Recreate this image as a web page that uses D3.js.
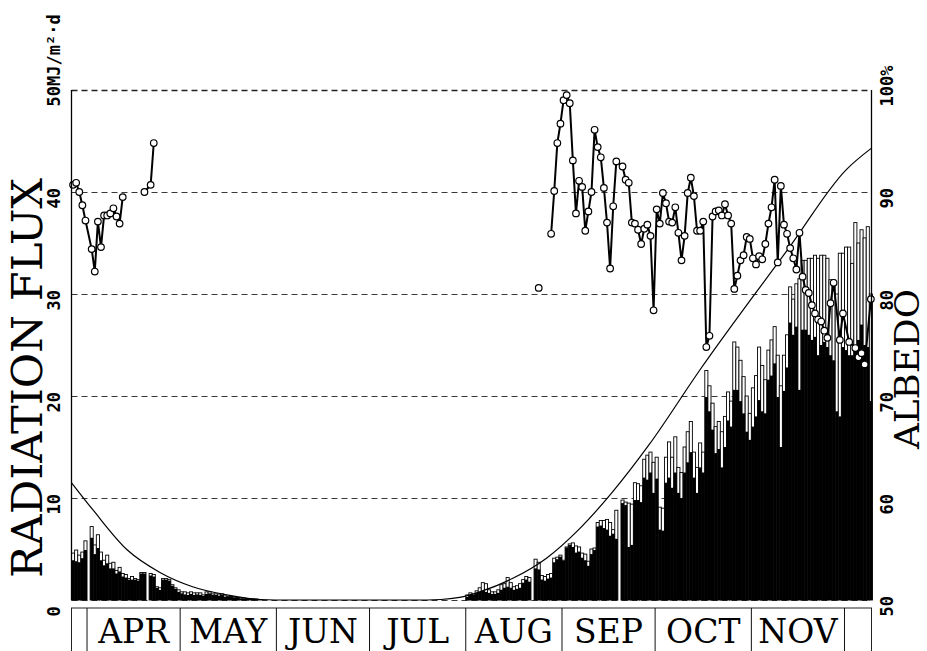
<!DOCTYPE html>
<html>
<head>
<meta charset="utf-8">
<script src="https://cdn.jsdelivr.net/npm/d3@7"></script>
<style>
  body { margin: 0; background: #fff; }
  svg { display: block; }
</style>
</head>
<body>
<svg id="chart" width="927" height="651"></svg>
<script>
// ---- Day axis: day 0 = 27 March, last day shown ~ 9 December ----
const lastDay = 257.7;
const months = ["APR", "MAY", "JUN", "JUL", "AUG", "SEP", "OCT", "NOV"];
const monthStartDays = [5, 35, 66, 96, 127, 158, 188, 219, 249]; // 1 Apr ... 1 Dec

// ---- Axis ticks ----
const fluxTicks = [0, 10, 20, 30, 40, 50];
const albedoTicks = [50, 60, 70, 80, 90, 100];

// ---- Daily global radiation (open bars) and reflected radiation (black bars), MJ/m2/d ----
// autumn series starts at day 0, spring series at day 127 (1 Aug); null = no record
const autumnStart = 0;
const autumnGlobal = [4.6, 4.9, 4.4, 4.7, 5.8, null, 7.2, 5.4, 6.4, 4.7, 3.9, 4.4, 3.6, 3.7, 2.9, 3.2,
  2.6, 2.5, 2.1, 2.3, 2.1, 2.0, 2.7, 2.7, null, 2.6, 2.5, 1.3, 1.2, 2.1, 2.1, 2.0, 1.5, 1.2, 1.0, 0.8,
  0.8, 0.7, 0.8, 0.7, 0.7, 0.7, 0.5, 0.8, 0.8, 0.6, 0.6, 0.5, 0.6, 0.4, 0.35, 0.35, 0.3, 0.25, 0.2,
  0.2, 0.15, 0.1, 0.1, 0.1, 0.05];
const autumnReflected = [3.9, 3.8, 3.7, 4.1, 4.9, null, 6.1, 4.5, 5.1, 3.9, 3.4, 3.6, 3.1, 3.1, 2.6, 2.8,
  2.3, 2.2, 2.0, 2.0, 2.0, 1.9, 2.6, 2.6, null, 2.4, 2.3, 1.2, 1.0, 2.0, 2.0, 1.9, 1.4, 1.1, 0.8, 0.65,
  0.55, 0.5, 0.6, 0.5, 0.55, 0.5, 0.4, 0.6, 0.65, 0.5, 0.5, 0.4, 0.5, 0.3, 0.3, 0.3, 0.25, 0.2, 0.15,
  0.15, 0.1, 0.08, 0.08, 0.05, 0.03];

const springStart = 127;
const springGlobal = [0.5, 0.7, 0.6, 0.9, 1.2, 1.7, 1.6, 1.0, 0.8, 0.8, 1.0, 1.5, 1.6, 2.2, 1.7, 1.3,
  1.4, 1.6, 2.0, 2.3, 2.2, null,
  4.0, 3.7, 2.4, 2.3, 2.5, 2.6, 4.1, 4.2, 4.4, 3.9, 5.2, 5.5, 5.6, 5.3, 5.2, 4.6, 4.5, 3.8, 5.0, 5.1,
  7.6, 7.8, 7.8, 7.9, 7.6, 6.9, 8.8, null,
  9.8, 9.6, 9.5, 9.4, 11.5, 11.4, 11.2, 13.8, 14.2, 14.5, 13.5, 14.0, 9.1, 9.0,
  14.0, 15.5, 14.0, 16.0, 13.0, 12.5, 15.0, 16.5, 17.5, 14.5, 13.0, 15.4, 14.5,
  22.5, 21.0, 19.3, 17.0, 17.5, 16.5, 18.0, 20.4, 19.5, 25.3, 24.8, 23.5, 21.9, 20.0, 18.3, 20.8,
  22.0, 24.8, 23.0, 21.6, 24.5, 25.5, 26.8, 24.0, 21.0, 24.0, 26.0,
  30.7, 29.5, 31.0, 31.5, 33.3, 33.3, 33.5, 33.5, 33.8, 33.5, 33.8, 33.8, 33.5, 31.4, 31.4, 30.0,
  34.0, 34.0, 34.6, 34.6, 33.0, 37.0, 35.0, 36.3, 35.5, 36.6, 30.0];
const springReflected = [0.3, 0.5, 0.5, 0.7, 0.8, 0.9, 0.8, 0.7, 0.6, 0.6, 0.7, 1.0, 1.2, 1.3, 1.2, 1.0,
  1.1, 1.2, 1.7, 2.0, 1.8, null,
  3.1, 3.0, 2.0, 1.9, 2.1, 2.2, 3.7, 4.0, 4.25, 3.85, 5.15, 5.4, 5.2, 4.65, 4.75, 4.15, 3.9, 3.35, 4.5,
  4.9, 7.2, 7.3, 7.05, 6.9, 6.3, 6.5, 6.0, null,
  9.5, 9.3, 5.2, 5.4, 9.8, 9.8, 9.6, 12.0, 11.8, 12.5, 10.5, 11.9, 6.9, 6.8,
  11.5, 12.0, 11.0, 12.5, 10.5, 10.0, 12.5, 13.5, 14.5, 12.0, 10.5, 13.0, 12.5,
  19.9, 18.5, 16.7, 14.4, 14.8, 13.0, 15.0, 17.6, 17.0, 20.6, 20.6, 19.5, 18.3, 16.5, 15.7, 17.0,
  18.0, 19.6, 18.5, 18.3, 21.6, 22.0, 23.2, 19.9, 15.0, 20.5, 22.8,
  27.2, 26.0, 26.8, 20.6, 26.5, 26.5, 26.0, 25.5, 25.8, 24.0, 25.0, 25.3, 24.8, 24.0, 23.5, 18.5,
  18.0, 24.8, 24.5, 24.0, 24.0, 24.5, 25.5, 27.0, 25.0, 24.8, 19.5];

// ---- Daily albedo, % ----
const albedoAutumnStart = 0;
const albedoAutumn = [90.7, 90.9, 90.0, 88.7, 87.2, null, 84.4, 82.2, 87.1, 84.6, 87.7, 87.7, 87.9, 88.4,
  87.6, 86.9, 89.5, null, null, null, null, null, null, 90.0, null, 90.7, 94.8];
const albedoSpringStart = 150;
const albedoSpring = [80.6, null, null, null, 85.9, 90.1, 94.8, 96.7, 99.0, 99.5, 98.7, 93.1, 87.9, 91.1,
  90.5, 86.2, 88.1, 90.0, 96.1, 94.4, 93.4, 90.4, 87.0, 82.5, 88.6, 93.0, null, 92.5, 91.2, 90.9, 87.0,
  86.9, 86.3, 84.9, 86.4, 86.8, 85.7, 78.4, 88.3, 86.9, 89.9, 88.9, 87.1, 87.0, 88.5, 86.0, 83.3, 85.7,
  89.9, 91.4, 89.6, 86.2, 86.2, 87.1, 74.8, 75.9, 87.6, 88.1, 88.2, 87.7, 88.8, 87.7, 86.9, 80.5, 81.8,
  83.3, 83.8, 85.6, 85.4, 83.5, 82.9, 83.7, 83.4, 84.9, 86.9, 88.5, 91.2, 83.1, 90.6, 86.8, 85.9, 84.5,
  83.5, 82.4, 86.0, 81.7, 80.4, 80.1, 78.9, 78.1, 77.5, 77.3, 76.4, 75.7, 79.1, 81.1, null, 75.5, 78.1,
  null, 75.3, null, 74.7, 73.8, 74.2, 73.1, null, 79.5];

// ---- Potential (cloudless) daily radiation curve, MJ/m2/d ----
const curveDays = [0, 7, 18, 28.5, 39, 50, 61, 70, 110, 119, 125, 131.5, 142, 153, 163.7, 174.3, 186,
  202.3, 231.3, 249.6, 257.7];
const curveFlux = [11.5, 8.8, 4.9, 2.7, 1.3, 0.5, 0.05, 0, 0, 0.05, 0.25, 0.8, 2.1, 4.1, 7.0, 10.6, 15.2,
  22.5, 34.6, 42.2, 44.3];

// ---- Assemble daily records ----
function series(start, values) {
  return values.map((v, k) => ({ day: start + k, v: v })).filter(d => d.v != null);
}
const bars = [];
[[autumnStart, autumnGlobal, autumnReflected], [springStart, springGlobal, springReflected]]
  .forEach(([s, g, r]) => g.forEach((gv, k) => {
    if (gv != null) bars.push({ day: s + k, g: gv, r: r[k] });
  }));
const albedoPts = series(albedoAutumnStart, albedoAutumn).concat(series(albedoSpringStart, albedoSpring));

// ---- Scales ----
const svg = d3.select("#chart");
const plotLeft = 71.5, plotRight = 871.5, plotTop = 90, plotBottom = 600;
const x = d3.scaleLinear().domain([0, lastDay]).range([plotLeft, plotRight]);
const yFlux = d3.scaleLinear().domain([0, 50]).range([plotBottom, plotTop]);
const yAlb = d3.scaleLinear().domain([50, 100]).range([plotBottom, plotTop]);

// ---- Dashed horizontal grid ----
svg.append("g")
  .attr("transform", `translate(${plotLeft},0)`)
  .call(d3.axisLeft(yFlux).tickValues(fluxTicks).tickSize(-(plotRight - plotLeft)).tickFormat(""))
  .call(g => g.select(".domain").remove())
  .call(g => g.selectAll(".tick line")
    .attr("stroke", "#222")
    .attr("stroke-width", d => d === 50 ? 1.4 : 0.9)
    .attr("stroke-dasharray", "6,4"));

// ---- Bars: open global bar behind, black reflected bar in front ----
const barG = svg.append("g");
barG.selectAll("rect.glob").data(bars).join("rect")
  .attr("class", "glob")
  .attr("x", d => x(d.day))
  .attr("width", d => x(d.day + 1) - x(d.day))
  .attr("y", d => yFlux(d.g))
  .attr("height", d => yFlux(0) - yFlux(d.g))
  .attr("fill", "#fff")
  .attr("stroke", "#000")
  .attr("stroke-width", 0.9);
barG.selectAll("rect.refl").data(bars).join("rect")
  .attr("class", "refl")
  .attr("x", d => x(d.day))
  .attr("width", d => x(d.day + 1) - x(d.day))
  .attr("y", d => yFlux(d.r))
  .attr("height", d => yFlux(0) - yFlux(d.r))
  .attr("fill", "#000");

// ---- Potential radiation curve ----
svg.append("path")
  .datum(curveDays.map((d, k) => [d, curveFlux[k]]))
  .attr("fill", "none")
  .attr("stroke", "#000")
  .attr("stroke-width", 1.2)
  .attr("d", d3.line().x(d => x(d[0])).y(d => yFlux(d[1])).curve(d3.curveMonotoneX));

// ---- Albedo: line through days at most two apart, open circles ----
const segments = [];
albedoPts.forEach((p, k) => {
  if (k === 0 || p.day - albedoPts[k - 1].day > 2) segments.push([]);
  segments[segments.length - 1].push(p);
});
const albLine = d3.line().x(d => x(d.day + 0.5)).y(d => yAlb(d.v));
svg.append("g").selectAll("path").data(segments.filter(s => s.length > 1)).join("path")
  .attr("fill", "none")
  .attr("stroke", "#000")
  .attr("stroke-width", 2)
  .attr("stroke-linejoin", "round")
  .attr("d", albLine);
svg.append("g").selectAll("circle").data(albedoPts).join("circle")
  .attr("cx", d => x(d.day + 0.5))
  .attr("cy", d => yAlb(d.v))
  .attr("r", 3.3)
  .attr("fill", "#fff")
  .attr("stroke", "#000")
  .attr("stroke-width", 1.2);

// ---- Frame sides ----
svg.append("line").attr("x1", plotLeft).attr("x2", plotLeft).attr("y1", plotTop).attr("y2", plotBottom)
  .attr("stroke", "#000").attr("stroke-width", 1.3);
svg.append("line").attr("x1", plotRight).attr("x2", plotRight).attr("y1", plotTop).attr("y2", plotBottom)
  .attr("stroke", "#000").attr("stroke-width", 1.3);

// ---- Tick labels (rotated, monospace) ----
const tickFont = "'DejaVu Sans Mono', monospace";
svg.append("g")
  .attr("transform", `translate(${plotLeft},0)`)
  .call(d3.axisLeft(yFlux).tickValues(fluxTicks).tickSize(0)
    .tickFormat(d => d === 50 ? "50MJ/m²·d" : d))
  .call(g => g.select(".domain").remove())
  .call(g => g.selectAll(".tick text")
    .attr("x", null).attr("dy", "0.35em")
    .attr("transform", "translate(-17.5,16) rotate(-90)")
    .attr("text-anchor", "start")
    .attr("font-family", tickFont).attr("font-weight", "bold").attr("font-size", 17)
    .attr("fill", "#000"));
svg.append("g")
  .attr("transform", `translate(${plotRight},0)`)
  .call(d3.axisRight(yAlb).tickValues(albedoTicks).tickSize(0)
    .tickFormat(d => d === 100 ? "100%" : d))
  .call(g => g.select(".domain").remove())
  .call(g => g.selectAll(".tick text")
    .attr("x", null).attr("dy", "0.35em")
    .attr("transform", "translate(15.5,16) rotate(-90)")
    .attr("text-anchor", "start")
    .attr("font-family", tickFont).attr("font-weight", "bold").attr("font-size", 17)
    .attr("fill", "#000"));

// ---- Axis titles ----
const titleFont = "'DejaVu Serif', serif";
svg.append("text")
  .attr("transform", "translate(27,378) rotate(-90)")
  .attr("text-anchor", "middle").attr("dy", "0.35em")
  .attr("font-family", titleFont).attr("font-size", 42)
  .attr("textLength", 400).attr("lengthAdjust", "spacingAndGlyphs")
  .text("RADIATION FLUX");
svg.append("text")
  .attr("transform", "translate(919,369) rotate(-90)")
  .attr("text-anchor", "middle")
  .attr("font-family", titleFont).attr("font-size", 34)
  .attr("textLength", 160).attr("lengthAdjust", "spacingAndGlyphs")
  .text("ALBEDO");

// ---- Month strip ----
const stripTop = 608, stripBottom = 660;
const strip = svg.append("g");
strip.append("rect")
  .attr("x", x(0)).attr("y", stripTop)
  .attr("width", x(lastDay) - x(0)).attr("height", stripBottom - stripTop)
  .attr("fill", "none").attr("stroke", "#222").attr("stroke-width", 1);
strip.selectAll("line.sep").data(monthStartDays).join("line")
  .attr("class", "sep")
  .attr("x1", d => x(d)).attr("x2", d => x(d))
  .attr("y1", stripTop).attr("y2", stripBottom)
  .attr("stroke", "#111").attr("stroke-width", 1);
strip.selectAll("text").data(months).join("text")
  .attr("x", (d, k) => (x(monthStartDays[k]) + x(monthStartDays[k + 1])) / 2)
  .attr("y", 643)
  .attr("text-anchor", "middle")
  .attr("font-family", titleFont).attr("font-size", 33)
  .attr("fill", "#000")
  .text(d => d);
</script>
</body>
</html>
